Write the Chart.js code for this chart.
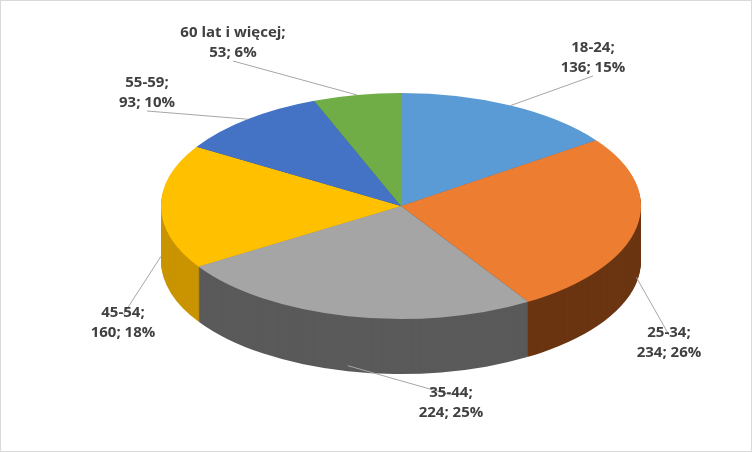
<!DOCTYPE html>
<html>
<head>
<meta charset="utf-8">
<script src="https://cdn.jsdelivr.net/npm/chart.js@4/dist/chart.umd.min.js"></script>
<style>
  html, body { margin: 0; padding: 0; background: #fff; }
  #wrap { width: 750px; height: 450px; border: 1px solid #d9d9d9; }
</style>
</head>
<body>
<div id="wrap"><canvas id="pie" width="750" height="450"></canvas></div>
<script>
const categories = ['18-24', '25-34', '35-44', '45-54', '55-59', '60 lat i więcej']
const counts = [136, 234, 224, 160, 93, 53]
const percents = ['15%', '26%', '25%', '18%', '10%', '6%']
const colors = ['#5B9BD5', '#ED7D31', '#A5A5A5', '#FFC000', '#4472C4', '#70AD47']
const sideColors = ['#3F73A3', '#6B3512', '#5A5A5A', '#C99400', '#2F5597', '#4E7A31']

// where each label sits (text centre) and whether its leader goes to the side wall
const labelSpots = [
  { x: 592, y: 55, depth: 0 },
  { x: 668, y: 340, depth: 1 },
  { x: 450, y: 400, depth: 1 },
  { x: 122, y: 320, depth: 1 },
  { x: 146, y: 90, depth: 0 },
  { x: 232, y: 40, depth: 0 }
]

const CX = 400, CY = 205, RX = 240, RY = 113, DEPTH = 55

function ellipsePoint(angle, depth) {
  return { x: CX + RX * Math.cos(angle), y: CY + RY * Math.sin(angle) + depth }
}

const tiltPlugin = {
  id: 'tilt',
  beforeDatasetsDraw(chart) {
    const ctx = chart.ctx
    const arcs = chart.getDatasetMeta(0).data
    const a0 = arcs[0]
    const r = a0.outerRadius
    const place = (extra) => {
      ctx.translate(CX, CY + extra)
      ctx.scale(RX / r, RY / r)
      ctx.translate(-a0.x, -a0.y)
    }
    // side wall: stack darker copies downwards
    for (let d = DEPTH; d > 0; d--) {
      ctx.save()
      place(d)
      arcs.forEach((arc, i) => {
        ctx.beginPath()
        ctx.moveTo(arc.x, arc.y)
        ctx.arc(arc.x, arc.y, arc.outerRadius, arc.startAngle, arc.endAngle)
        ctx.closePath()
        ctx.fillStyle = sideColors[i]
        ctx.fill()
      })
      ctx.restore()
    }
    ctx.save()
    place(0)
  },
  afterDatasetsDraw(chart) {
    const ctx = chart.ctx
    ctx.restore()
    const arcs = chart.getDatasetMeta(0).data
    ctx.font = 'bold 15px "Open Sans", sans-serif'
    ctx.fillStyle = '#404040'
    ctx.strokeStyle = '#A6A6A6'
    ctx.lineWidth = 1
    ctx.textAlign = 'center'
    arcs.forEach((arc, i) => {
      const mid = (arc.startAngle + arc.endAngle) / 2
      const spot = labelSpots[i]
      const p = ellipsePoint(mid, spot.depth ? DEPTH * 0.9 : 0)
      const ay = spot.y + (p.y > spot.y ? 20 : -6)
      ctx.beginPath()
      ctx.moveTo(p.x, p.y)
      ctx.lineTo(spot.x, ay)
      ctx.stroke()
      ctx.fillText(categories[i] + ';', spot.x, spot.y - 4)
      ctx.fillText(counts[i] + '; ' + percents[i], spot.x, spot.y + 16)
    })
  }
}

new Chart(document.getElementById('pie'), {
  type: 'pie',
  data: {
    labels: categories,
    datasets: [{
      data: counts,
      backgroundColor: colors,
      borderWidth: 0
    }]
  },
  options: {
    responsive: false,
    animation: false,
    plugins: { legend: { display: false }, tooltip: { enabled: false } }
  },
  plugins: [tiltPlugin]
})
</script>
</body>
</html>
